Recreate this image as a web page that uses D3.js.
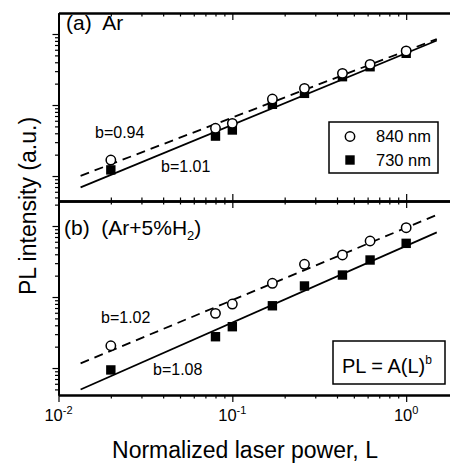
<!DOCTYPE html>
<html>
<head>
<meta charset="utf-8">
<script src="https://cdn.jsdelivr.net/npm/d3@7"></script>
<style>
  body { margin: 0; background: #fff; }
  text { font-family: "Liberation Sans", Arial, sans-serif; fill: #000; }
</style>
</head>
<body>
<div id="chart"></div>
<script>
// normalized laser power (x values, shared by every series)
var power = [0.02, 0.08, 0.1, 0.17, 0.26, 0.43, 0.62, 1.0];

// (a) Ar
var arPL840 = [16.8, 47, 55.2, 121.6, 171.8, 279, 374, 577];
var arPL730 = [12.2, 36.5, 44.5, 102.4, 146, 250.6, 346, 535];

// (b) Ar+5%H2
var h2PL840 = [20.6, 58.9, 79.6, 156, 289, 391, 615, 946];
var h2PL730 = [9.4, 27.6, 38.2, 75.3, 143, 204, 332, 570];

// power-law fits PL = A(L)^b  (A = value at L = 1)
var arFitA = [580, 538], arFitB = [0.94, 1.01];
var h2FitA = [946, 526], h2FitB = [1.02, 1.08];
var fitRange = [0.0134, 1.5];

var xMajor = [0.01, 0.1, 1];
var xMajorExp = ["-2", "-1", "0"];

var width = 450, height = 464;
var left = 58.5, right = 458.5;

var svg = d3.select("#chart").append("svg")
  .attr("width", width)
  .attr("height", height);

var x = d3.scaleLog().domain([0.01, 2]).range([left, right]);

var panels = [
  { top: 13, bottom: 201, domain: [4.45, 1976], c: arPL840, s: arPL730,
    fa: arFitA, fb: arFitB },
  { top: 201, bottom: 395, domain: [4.17, 2250], c: h2PL840, s: h2PL730,
    fa: h2FitA, fb: h2FitB }
];

var xAll = x.ticks();
var xMinor = xAll.filter(function (d) { return xMajor.indexOf(d) < 0; });

panels.forEach(function (p, pi) {
  var y = d3.scaleLog().domain(p.domain).range([p.bottom, p.top]);
  var yAll = y.ticks();
  var yMaj = yAll.filter(function (d) { return Math.abs(Math.log10(d) - Math.round(Math.log10(d))) < 1e-9; });
  var yMin = yAll.filter(function (d) { return yMaj.indexOf(d) < 0; });

  var g = svg.append("g");

  // left axis, ticks outward
  [[yMin, 3.5], [yMaj, 6]].forEach(function (t) {
    g.append("g")
      .attr("transform", "translate(" + left + ",0)")
      .call(d3.axisLeft(y).tickValues(t[0]).tickSize(t[1]).tickSizeOuter(0).tickFormat(""));
  });
  // right axis (outside the window)
  g.append("g")
    .attr("transform", "translate(" + right + ",0)")
    .call(d3.axisRight(y).tickValues(yAll).tickSize(-4).tickSizeOuter(0).tickFormat(""));

  // top axis, ticks inward
  [[xMinor, -3.5], [xMajor, -7]].forEach(function (t) {
    g.append("g")
      .attr("transform", "translate(0," + p.top + ")")
      .call(d3.axisTop(x).tickValues(t[0]).tickSize(t[1]).tickSizeOuter(0).tickFormat(""));
  });
  // bottom axis: inward for panel (a), outward for panel (b)
  var dir = pi === 0 ? -1 : 1;
  [[xMinor, 3.5], [xMajor, 7]].forEach(function (t) {
    g.append("g")
      .attr("transform", "translate(0," + p.bottom + ")")
      .call(d3.axisBottom(x).tickValues(t[0]).tickSize(t[1] * dir).tickSizeOuter(0).tickFormat(""));
  });

  // fit lines
  var line = d3.line()
    .x(function (d) { return x(d[0]); })
    .y(function (d) { return y(d[1]); });
  p.fa.forEach(function (A, k) {
    var pts = fitRange.map(function (L) { return [L, A * Math.pow(L, p.fb[k])]; });
    g.append("path")
      .datum(pts)
      .attr("d", line)
      .attr("fill", "none")
      .attr("stroke", "#000")
      .attr("stroke-width", 1.8)
      .attr("stroke-dasharray", k === 0 ? "9,6" : null);
  });

  // 730 nm squares
  g.selectAll("rect.sq")
    .data(p.s)
    .enter()
    .append("rect")
    .attr("class", "sq")
    .attr("x", function (d, i) { return x(power[i]) - 4.7; })
    .attr("y", function (d) { return y(d) - 4.7; })
    .attr("width", 9.4)
    .attr("height", 9.4)
    .attr("fill", "#000");

  // 840 nm open circles
  g.selectAll("circle.c")
    .data(p.c)
    .enter()
    .append("circle")
    .attr("class", "c")
    .attr("cx", function (d, i) { return x(power[i]); })
    .attr("cy", function (d) { return y(d); })
    .attr("r", 4.7)
    .attr("fill", "#fff")
    .attr("stroke", "#000")
    .attr("stroke-width", 1.5);
});

svg.selectAll(".domain").attr("stroke-width", 2);
svg.selectAll(".tick line").attr("stroke-width", 1.2);

// x tick labels 10^n
xMajor.forEach(function (v, i) {
  var t = svg.append("text")
    .attr("x", x(v))
    .attr("y", 421)
    .attr("text-anchor", "middle")
    .style("font-size", "16.5px");
  t.append("tspan").text("10");
  t.append("tspan").attr("dy", -7.5).style("font-size", "11px").text(xMajorExp[i]);
});

// axis titles
svg.append("text")
  .attr("x", 245)
  .attr("y", 458)
  .attr("text-anchor", "middle")
  .style("font-size", "23px")
  .text("Normalized laser power, L");

svg.append("text")
  .attr("transform", "translate(36,206) rotate(-90)")
  .attr("text-anchor", "middle")
  .style("font-size", "23px")
  .text("PL intensity (a.u.)");

// panel labels
svg.append("text")
  .attr("x", 66)
  .attr("y", 29.5)
  .style("font-size", "21px")
  .attr("xml:space", "preserve")
  .text("(a)  Ar");

var lb = svg.append("text")
  .attr("x", 64)
  .attr("y", 235)
  .attr("xml:space", "preserve")
  .style("font-size", "21px");
lb.append("tspan").text("(b)  (Ar+5%H");
lb.append("tspan").attr("dy", 5).style("font-size", "13px").text("2");
lb.append("tspan").attr("dy", -5).text(")");

// exponent labels
var bLabels = [
  { t: "b=" + arFitB[0].toFixed(2), x: 95, y: 138 },
  { t: "b=" + arFitB[1].toFixed(2), x: 161, y: 172 },
  { t: "b=" + h2FitB[0].toFixed(2), x: 101, y: 323 },
  { t: "b=" + h2FitB[1].toFixed(2), x: 153, y: 375 }
];
svg.selectAll("text.blab")
  .data(bLabels)
  .enter()
  .append("text")
  .attr("class", "blab")
  .attr("x", function (d) { return d.x; })
  .attr("y", function (d) { return d.y; })
  .style("font-size", "16px")
  .text(function (d) { return d.t; });

// legend
var leg = svg.append("g");
leg.append("rect")
  .attr("x", 329).attr("y", 122).attr("width", 109).attr("height", 51)
  .attr("fill", "#fff").attr("stroke", "#000").attr("stroke-width", 1.5);
leg.append("circle")
  .attr("cx", 350).attr("cy", 136.5).attr("r", 4.7)
  .attr("fill", "#fff").attr("stroke", "#000").attr("stroke-width", 1.5);
leg.append("rect")
  .attr("x", 345.3).attr("y", 155.3).attr("width", 9.4).attr("height", 9.4)
  .attr("fill", "#000");
leg.append("text").attr("x", 376).attr("y", 142).style("font-size", "16.5px").text("840 nm");
leg.append("text").attr("x", 376).attr("y", 166).style("font-size", "16.5px").text("730 nm");

// formula box
svg.append("rect")
  .attr("x", 333).attr("y", 341).attr("width", 112).attr("height", 43)
  .attr("fill", "#fff").attr("stroke", "#000").attr("stroke-width", 1.5);
var ft = svg.append("text")
  .attr("x", 342)
  .attr("y", 373)
  .attr("xml:space", "preserve")
  .style("font-size", "20px");
ft.append("tspan").text("PL = A(L)");
ft.append("tspan").attr("dy", -9).style("font-size", "12px").text("b");
</script>
</body>
</html>
